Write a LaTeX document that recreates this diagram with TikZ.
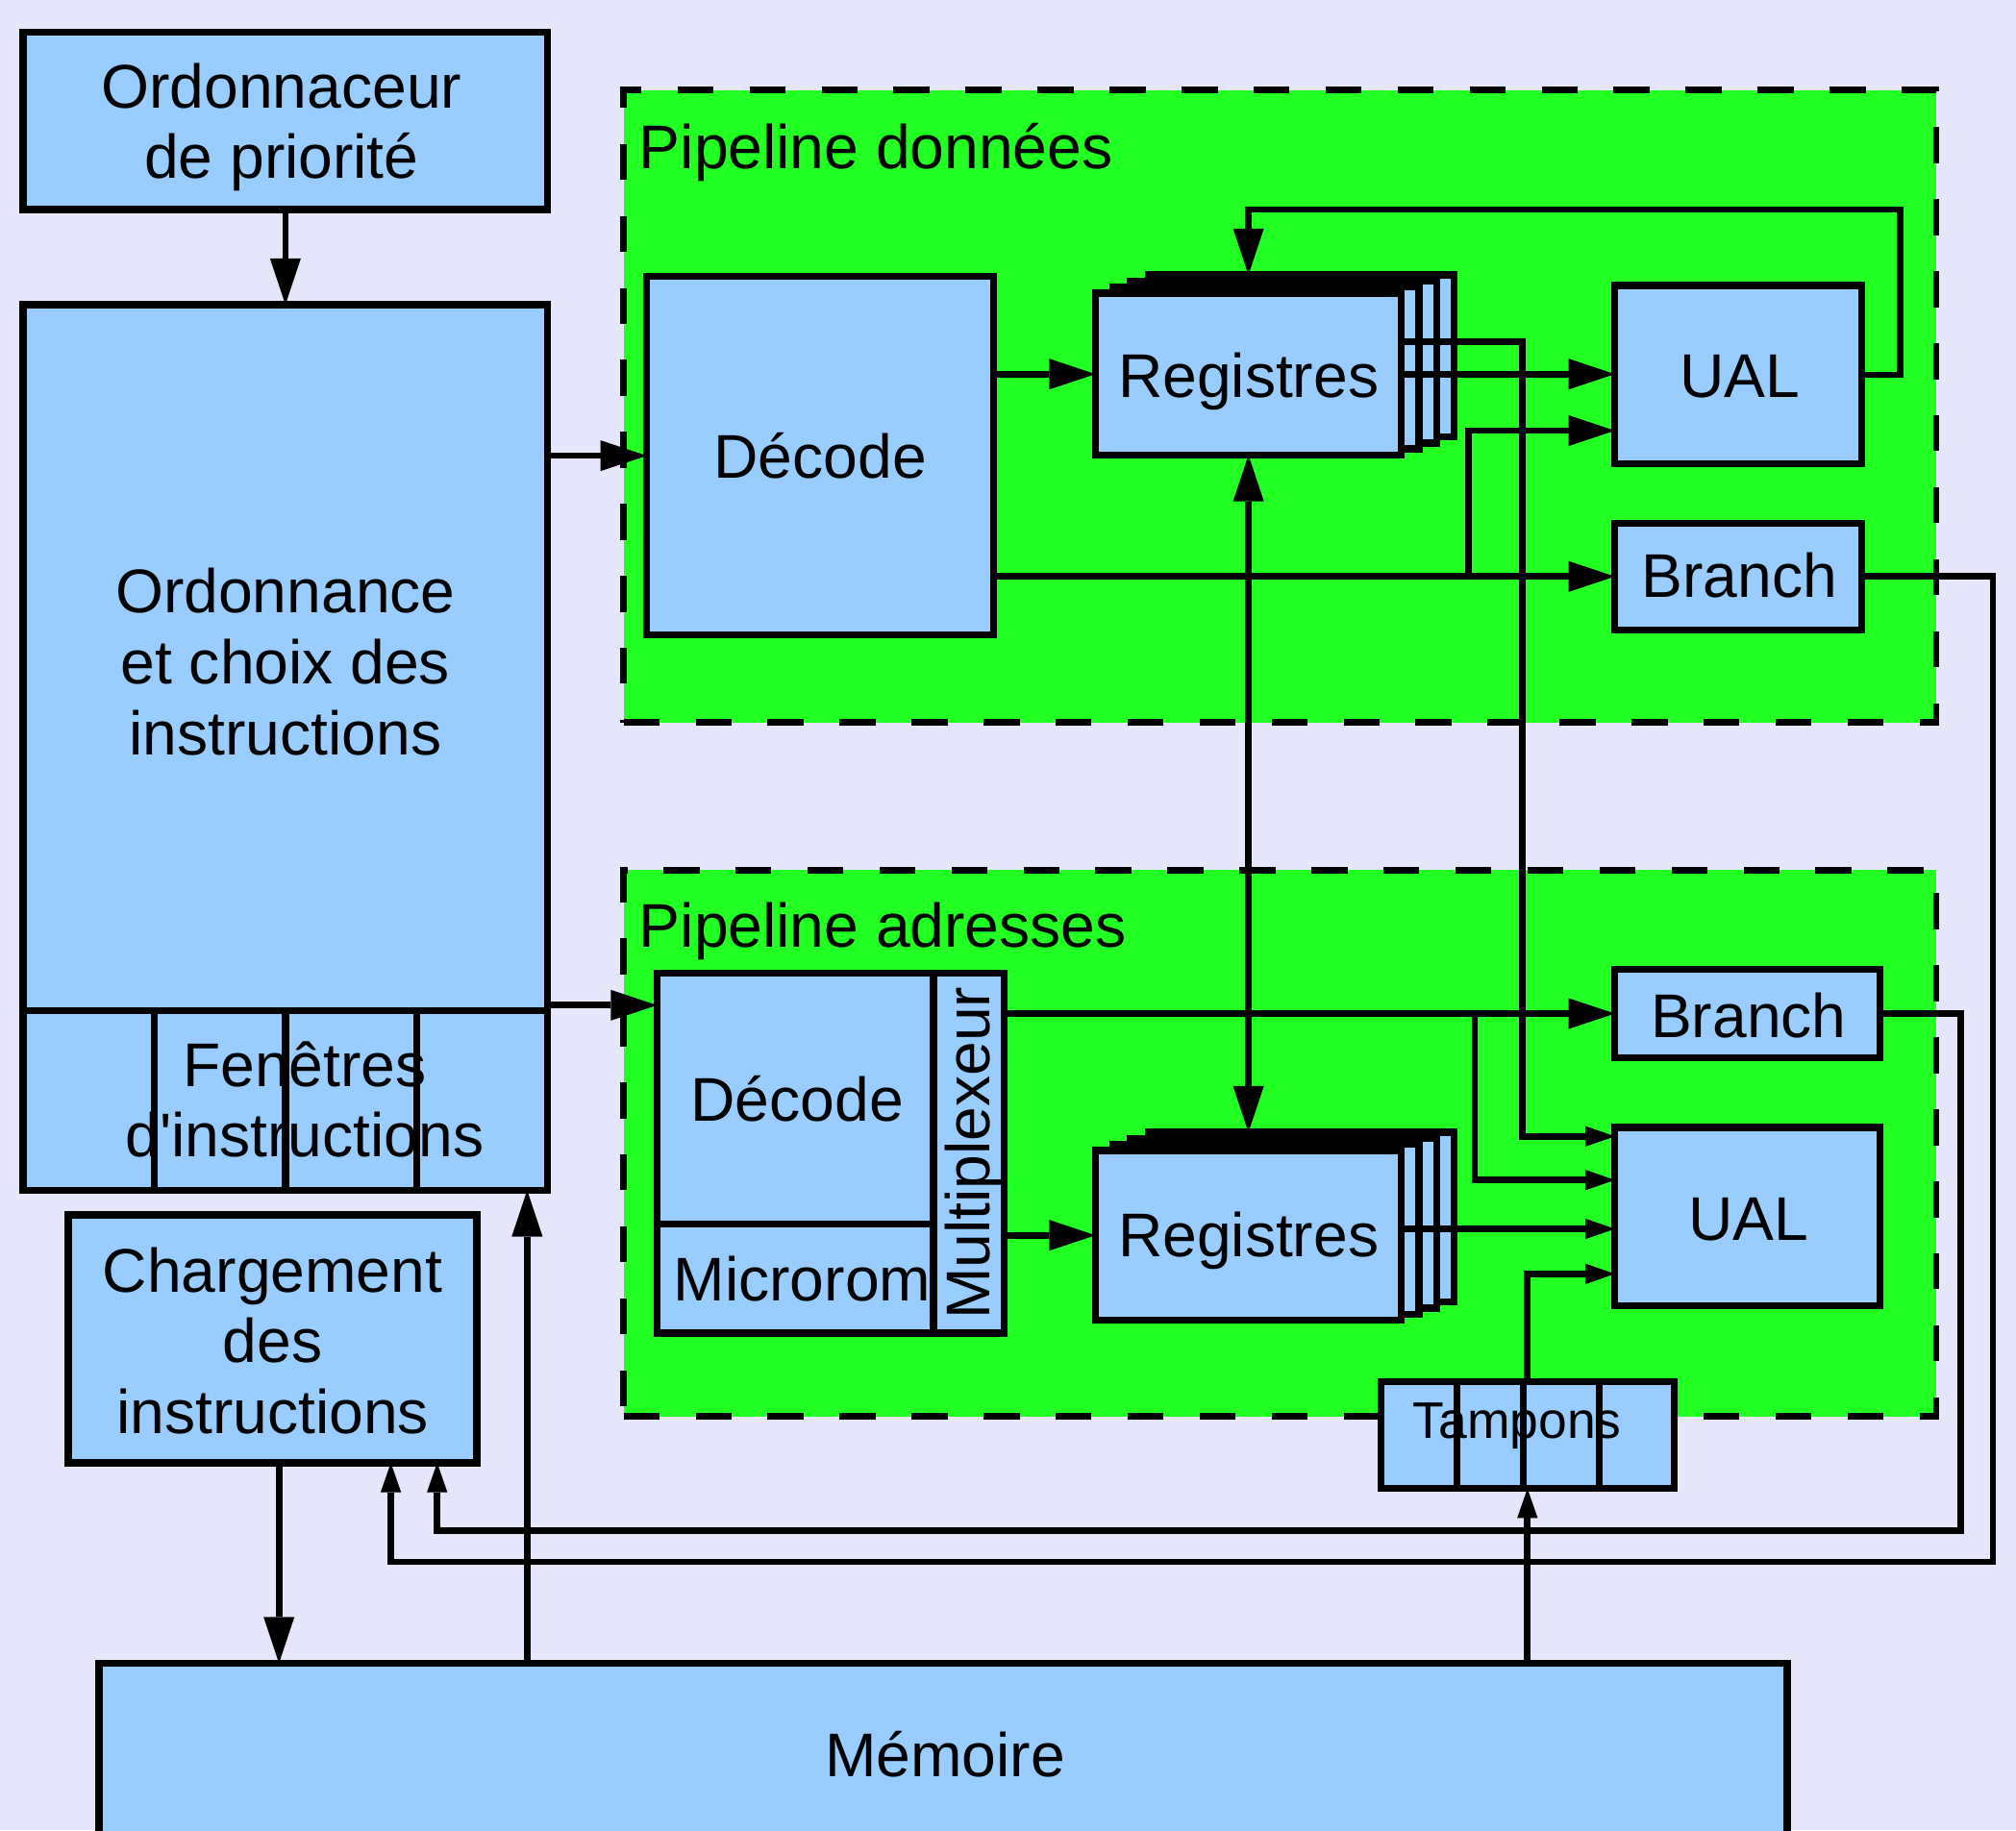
\documentclass[tikz,border=0pt]{standalone}
\usepackage{fontspec}
\setmainfont{Liberation Sans}
\usetikzlibrary{arrows.meta,fit,calc}
\definecolor{bgcol}{RGB}{230,230,250}
\definecolor{boxblue}{RGB}{153,204,255}
\definecolor{pipegreen}{RGB}{34,255,34}
\begin{document}
\begin{tikzpicture}[x=1pt,y=-1pt,
  box/.style={draw, fill=boxblue, line width=5.5pt, inner sep=0pt, outer sep=0pt, rectangle},
  pipe/.style={draw, fill=pipegreen, line width=5pt, inner sep=0pt, outer sep=0pt, dash pattern=on 28pt off 28pt},
  lbl/.style={font=\fontsize{48}{55}\selectfont, align=center, inner sep=0pt, anchor=base},
  wire/.style={line width=5pt},
  arr/.style={wire, -{Triangle[length=36pt,width=24pt,line width=0pt]}},
  arrs/.style={wire, -{Triangle[length=23pt,width=16pt,line width=0pt]}},
  dbl/.style={wire, {Triangle[length=36pt,width=24pt,line width=0pt]}-{Triangle[length=36pt,width=24pt,line width=0pt]}},
]
\path[use as bounding box, fill=bgcol] (0,0) rectangle (1568,1424);

% pipelines
\node[pipe, fit={(485,70) (1506,562)}] (pipeD) {};
\node[pipe, fit={(485,677) (1506,1102)}] (pipeA) {};
\node[lbl, anchor=base west] (pipeDlbl) at (497,131) {Pipeline données};
\node[lbl, anchor=base west] (pipeAlbl) at (497,737) {Pipeline adresses};

% left column (multi-line labels: base = last line baseline)
\node[box, fit={(18,25) (426,163)}] (ordo) {};
\node[lbl] (ordotxt) at (219,139) {Ordonnaceur\\de priorité};
\node[box, fit={(18,237) (426,786)}] (sched) {};
\node[lbl] (schedtxt) at (222,587) {Ordonnance\\et choix des\\instructions};
\node[box, fit={(18,786) (426,926)}] (win) {};
\node[lbl] (wintxt) at (237,900) {Fenêtres\\d\textquotesingle instructions};
\foreach \d in {102,204,306}
  \draw[line width=5.5pt] ([xshift=\d pt]win.north west) -- ([xshift=\d pt]win.south west);
\node[box, fit={(53,945) (371,1138)}] (charg) {};
\node[lbl] (chargtxt) at (212,1115) {Chargement\\des\\instructions};
\node[box, fit={(77,1294) (1390,1460)}] (mem) {};
\node[lbl] (memtxt) at (735,1382) {Mémoire};

% pipeline donnees
\node[box, fit={(503,215) (773,494)}] (decD) {};
\node[lbl] (decDtxt) at (638,372) {Décode};
\foreach \k in {3,2,1}
  \node[box, fit={({852+13.7*\k},{228-4.7*\k}) ({1090+13.7*\k},{354-4.7*\k})}] (regD\k) {};
\node[box, fit={(852,228) (1090,354)}] (regD) {};
\node[lbl] (regDtxt) at (971,309) {Registres};
\node[box, fit={(1256,222) (1448,361)}] (ualD) {};
\node[lbl] (ualDtxt) at (1353,309) {UAL};
\node[box, fit={(1256,407) (1448,490)}] (brD) {};
\node[lbl] (brDtxt) at (1353,465) {Branch};

% pipeline adresses
\node[box, fit={(511,757) (726,952)}] (decA) {};
\node[lbl] (decAtxt) at (620,872) {Décode};
\node[box, fit={(511,952) (726,1037)}] (micro) {};
\node[lbl] (microtxt) at (624,1012) {Microrom};
\node[box, fit={(726,757) (781,1037)}] (mux) {};
\node[lbl, rotate=90, anchor=center] (muxtxt) at ([xshift=4pt]mux.center) {Multiplexeur};
\foreach \k in {3,2,1}
  \node[box, fit={({852+13.7*\k},{895-4.7*\k}) ({1090+13.7*\k},{1027-4.7*\k})}] (regA\k) {};
\node[box, fit={(852,895) (1090,1027)}] (regA) {};
\node[lbl] (regAtxt) at (971,978) {Registres};
\node[box, fit={(1256,754) (1462,823)}] (brA) {};
\node[lbl] (brAtxt) at (1360,807) {Branch};
\node[box, fit={(1256,877) (1462,1016)}] (ualA) {};
\node[lbl] (ualAtxt) at (1360,965) {UAL};

\node[box, fit={(1074,1075) (1302,1158)}] (tamp) {};
\node[lbl, font=\fontsize{40}{46}\selectfont] (tamptxt) at (1180,1119) {Tampons};
\foreach \d in {59,111,170}
  \draw[line width=5.5pt] ([xshift=\d pt]tamp.north west) -- ([xshift=\d pt]tamp.south west);

% helper coordinates
\coordinate (jx1) at (1184,0);
\coordinate (jx2) at (1142,0);
\coordinate (jx3) at (1147,0);
\coordinate (loop) at (1478,163);
\coordinate (fbA) at (1525,1191);
\coordinate (fbD) at (1550,1215);
\coordinate (decAin) at ([yshift=-25pt]decA.north west);
\coordinate (ualAin1) at ([yshift=-7pt]ualA.north west);
\coordinate (ualAin2) at ([yshift=-41pt]ualA.north west);
\coordinate (ualAin3) at ([yshift=-79pt]ualA.north west);
\coordinate (ualAin4) at ([yshift=25pt]ualA.south west);
\coordinate (ualDin2) at ([yshift=26pt]ualD.south west);
\coordinate (chOut) at ([xshift=5pt]charg.south);
\coordinate (memup) at ([xshift=-16pt]win.south east);
\coordinate (fbAin) at ([xshift=-31pt]charg.south east);
\coordinate (fbDin) at ([xshift=-67pt]charg.south east);

% connectors
\draw[arr] (ordo.south) -- (sched.north);
\draw[arr] (sched.east |- decD.west) -- (decD.west);
\draw[arr] (sched.east |- decAin) -- (decAin);
\draw[arr] (decD.east |- regD.west) -- (regD.west);
\draw[arr] (regD.east) -- (ualD.west |- regD.east);
\draw[arrs] ([yshift=25pt]regD.east) -| (jx1 |- ualAin1) -- (ualAin1);
\draw[arr] (ualD.east) -| (loop) -| (regD.north |- regD3.north);
\draw[arr] (decD.east |- brD.west) -- (brD.west);
\draw[arr] (jx2 |- brD.west) |- (ualDin2);
\draw[dbl] (regD.south) -- (regA.north |- regA3.north);
\draw[arr] (mux.east |- brA.west) -- (brA.west);
\draw[arrs] (jx3 |- brA.west) |- (ualAin2);
\draw[arr] (mux.east |- regA.west) -- (regA.west);
\draw[arrs] (regA.east |- ualAin3) -- (ualAin3);
\draw[arrs] (tamp.north) |- (ualAin4);
\draw[arrs] (mem.north -| tamp.south) -- (tamp.south);
\draw[arr] (chOut) -- (chOut |- mem.north);
\draw[arr] (mem.north -| memup) -- (memup);
\draw[arrs] (brA.east) -| (fbA) -| (fbAin);
\draw[arrs] (brD.east) -| (fbD) -| (fbDin);
\end{tikzpicture}
\end{document}
